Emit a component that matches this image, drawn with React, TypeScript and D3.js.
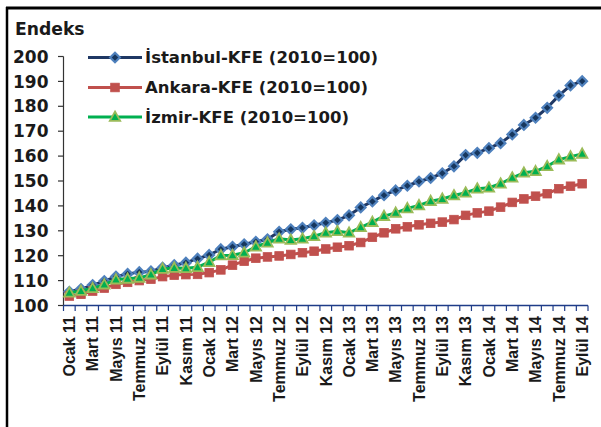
import React from "react";
import * as d3 from "d3";

const categories = [
  "Ocak 11","Şubat 11","Mart 11","Nisan 11","Mayıs 11","Haziran 11","Temmuz 11","Ağustos 11","Eylül 11","Ekim 11","Kasım 11","Aralık 11",
  "Ocak 12","Şubat 12","Mart 12","Nisan 12","Mayıs 12","Haziran 12","Temmuz 12","Ağustos 12","Eylül 12","Ekim 12","Kasım 12","Aralık 12",
  "Ocak 13","Şubat 13","Mart 13","Nisan 13","Mayıs 13","Haziran 13","Temmuz 13","Ağustos 13","Eylül 13","Ekim 13","Kasım 13","Aralık 13",
  "Ocak 14","Şubat 14","Mart 14","Nisan 14","Mayıs 14","Haziran 14","Temmuz 14","Ağustos 14","Eylül 14",
];

const istanbul = [
  105.5, 106.6, 108.2, 109.8, 111.6, 112.7, 113.4, 113.7, 115.2, 116.2, 117.2, 118.8,
  120.3, 122.6, 123.6, 124.6, 125.6, 126.6, 129.6, 130.6, 131.2, 132.2, 133.2, 134.3,
  136.2, 139.4, 141.8, 144.3, 146.2, 148.1, 149.8, 151.2, 153.1, 155.9, 160.4, 161.3,
  163.2, 165.2, 168.7, 172.5, 175.4, 179.4, 184.3, 188.4, 190.1,
];

const ankara = [
  103.8, 104.5, 105.8, 107.0, 108.5, 109.3, 110.0, 110.6, 111.6, 112.2, 112.4, 112.5,
  113.2, 114.3, 116.2, 117.8, 119.0, 119.5, 119.9, 120.5, 121.2, 121.8, 122.7, 123.4,
  124.0, 125.3, 127.4, 129.2, 130.8, 131.6, 132.4, 133.0, 133.5, 134.5, 136.2, 137.2,
  137.9, 139.5, 141.4, 142.8, 143.9, 144.9, 146.9, 147.9, 148.9,
];

const izmir = [
  105.1, 105.8, 106.9, 108.4, 110.4, 110.7, 111.1, 112.4, 114.7, 115.1, 115.0, 115.4,
  117.4, 120.1, 120.2, 121.2, 123.6, 125.2, 126.8, 126.3, 126.8, 127.8, 129.2, 129.8,
  129.2, 131.4, 133.5, 135.9, 137.2, 139.0, 140.2, 141.9, 142.8, 144.2, 145.3, 146.9,
  147.3, 148.9, 151.3, 153.3, 153.9, 155.9, 158.6, 159.8, 160.9,
];

const yTicks = [100, 110, 120, 130, 140, 150, 160, 170, 180, 190, 200];
const seriesNames = ["İstanbul-KFE (2010=100)", "Ankara-KFE (2010=100)", "İzmir-KFE (2010=100)"];

const W = 601;
const H = 427;
const x = d3.scaleBand<string>().domain(categories).range([63.5, 588]);
const y = d3.scaleLinear().domain([100, 200]).range([305.5, 56.5]);
const cx = (i: number) => (x(categories[i]) as number) + x.bandwidth() / 2;

const lineGen = d3
  .line<number>()
  .x((_, i) => cx(i))
  .y((d) => y(d));

type Kind = "diamond" | "square" | "triangle";

const styles: { data: number[]; line: string; fill: string; stroke: string; kind: Kind }[] = [
  { data: istanbul, line: "#1F3864", fill: "#17375E", stroke: "#4F81BD", kind: "diamond" },
  { data: ankara, line: "#C0504D", fill: "#C0504D", stroke: "#C0504D", kind: "square" },
  { data: izmir, line: "#00B050", fill: "#00B050", stroke: "#9BBB59", kind: "triangle" },
];

function Marker({ kind, px, py, fill, stroke }: { kind: Kind; px: number; py: number; fill: string; stroke: string }) {
  if (kind === "diamond") {
    const s = 4.8;
    return (
      <path
        d={`M${px},${py - s}L${px + s},${py}L${px},${py + s}L${px - s},${py}Z`}
        fill={fill}
        stroke={stroke}
        strokeWidth={2.2}
      />
    );
  }
  if (kind === "square") {
    const s = 4.3;
    return <rect x={px - s} y={py - s} width={2 * s} height={2 * s} fill={fill} stroke={stroke} strokeWidth={0.8} />;
  }
  const s = 5.2;
  return (
    <path
      d={`M${px},${py - s * 1.05}L${px + s},${py + s * 0.75}L${px - s},${py + s * 0.75}Z`}
      fill={fill}
      stroke={stroke}
      strokeWidth={1.8}
      strokeLinejoin="miter"
    />
  );
}

export default function App() {
  const boundaries = categories.map((c) => x(c) as number).concat([x.range()[1]]);
  const labelIdx = categories.map((_, i) => i).filter((i) => i % 2 === 0);
  const legendY = [57.5, 87.5, 117];

  return (
    <svg
      width={W}
      height={H}
      style={{ position: "absolute", left: 0, top: 0, background: "#fff" }}
      fontFamily="'DejaVu Sans', Verdana, sans-serif"
    >
      <rect x={0} y={0} width={W} height={H} fill="#fff" />
      {/* frame */}
      <line x1={7} y1={7} x2={7} y2={H} stroke="#000" strokeWidth={2.5} />
      <line x1={6} y1={8} x2={W} y2={8} stroke="#000" strokeWidth={3} />

      <text x={15} y={35} fontSize={17.2} fontWeight="bold" fill="#1a1a1a">
        Endeks
      </text>

      {/* y axis */}
      <line x1={63.5} y1={y(200)} x2={63.5} y2={y(100)} stroke="#333" strokeWidth={1.2} />
      {yTicks.map((t) => (
        <g key={t}>
          <line x1={58} x2={63.5} y1={y(t)} y2={y(t)} stroke="#333" strokeWidth={1.2} />
          <text x={48.5} y={y(t)} dy="0.36em" textAnchor="end" fontSize={17} fontWeight="bold" fill="#1a1a1a">
            {t}
          </text>
        </g>
      ))}

      {/* x axis */}
      <line x1={63.5} x2={588} y1={y(100)} y2={y(100)} stroke="#1F3C88" strokeWidth={1.5} />
      {boundaries.map((b, i) => (
        <line key={i} x1={b} x2={b} y1={y(100)} y2={y(100) + 5.5} stroke="#1F3C88" strokeWidth={1.2} />
      ))}
      {labelIdx.map((i) => (
        <text
          key={i}
          transform={`translate(${cx(i)},${316}) rotate(-90)`}
          dy="0.36em"
          textAnchor="end"
          fontSize={16}
          fontWeight="bold"
          fontFamily="'Liberation Sans', Arial, sans-serif"
          fill="#1a1a1a"
        >
          {categories[i]}
        </text>
      ))}

      {/* series */}
      {styles.map((s, k) => (
        <g key={k}>
          <path d={lineGen(s.data) as string} fill="none" stroke={s.line} strokeWidth={3} strokeLinejoin="round" />
          {s.data.map((v, i) => (
            <Marker key={i} kind={s.kind} px={cx(i)} py={y(v)} fill={s.fill} stroke={s.stroke} />
          ))}
        </g>
      ))}

      {/* legend */}
      {styles.map((s, k) => (
        <g key={k}>
          <line x1={88} x2={142} y1={legendY[k]} y2={legendY[k]} stroke={s.line} strokeWidth={3.2} />
          <Marker kind={s.kind} px={115} py={legendY[k]} fill={s.fill} stroke={s.stroke} />
          <text x={145} y={legendY[k]} dy="0.36em" fontSize={16.5} fontWeight="bold" fill="#1a1a1a">
            {seriesNames[k]}
          </text>
        </g>
      ))}
    </svg>
  );
}
